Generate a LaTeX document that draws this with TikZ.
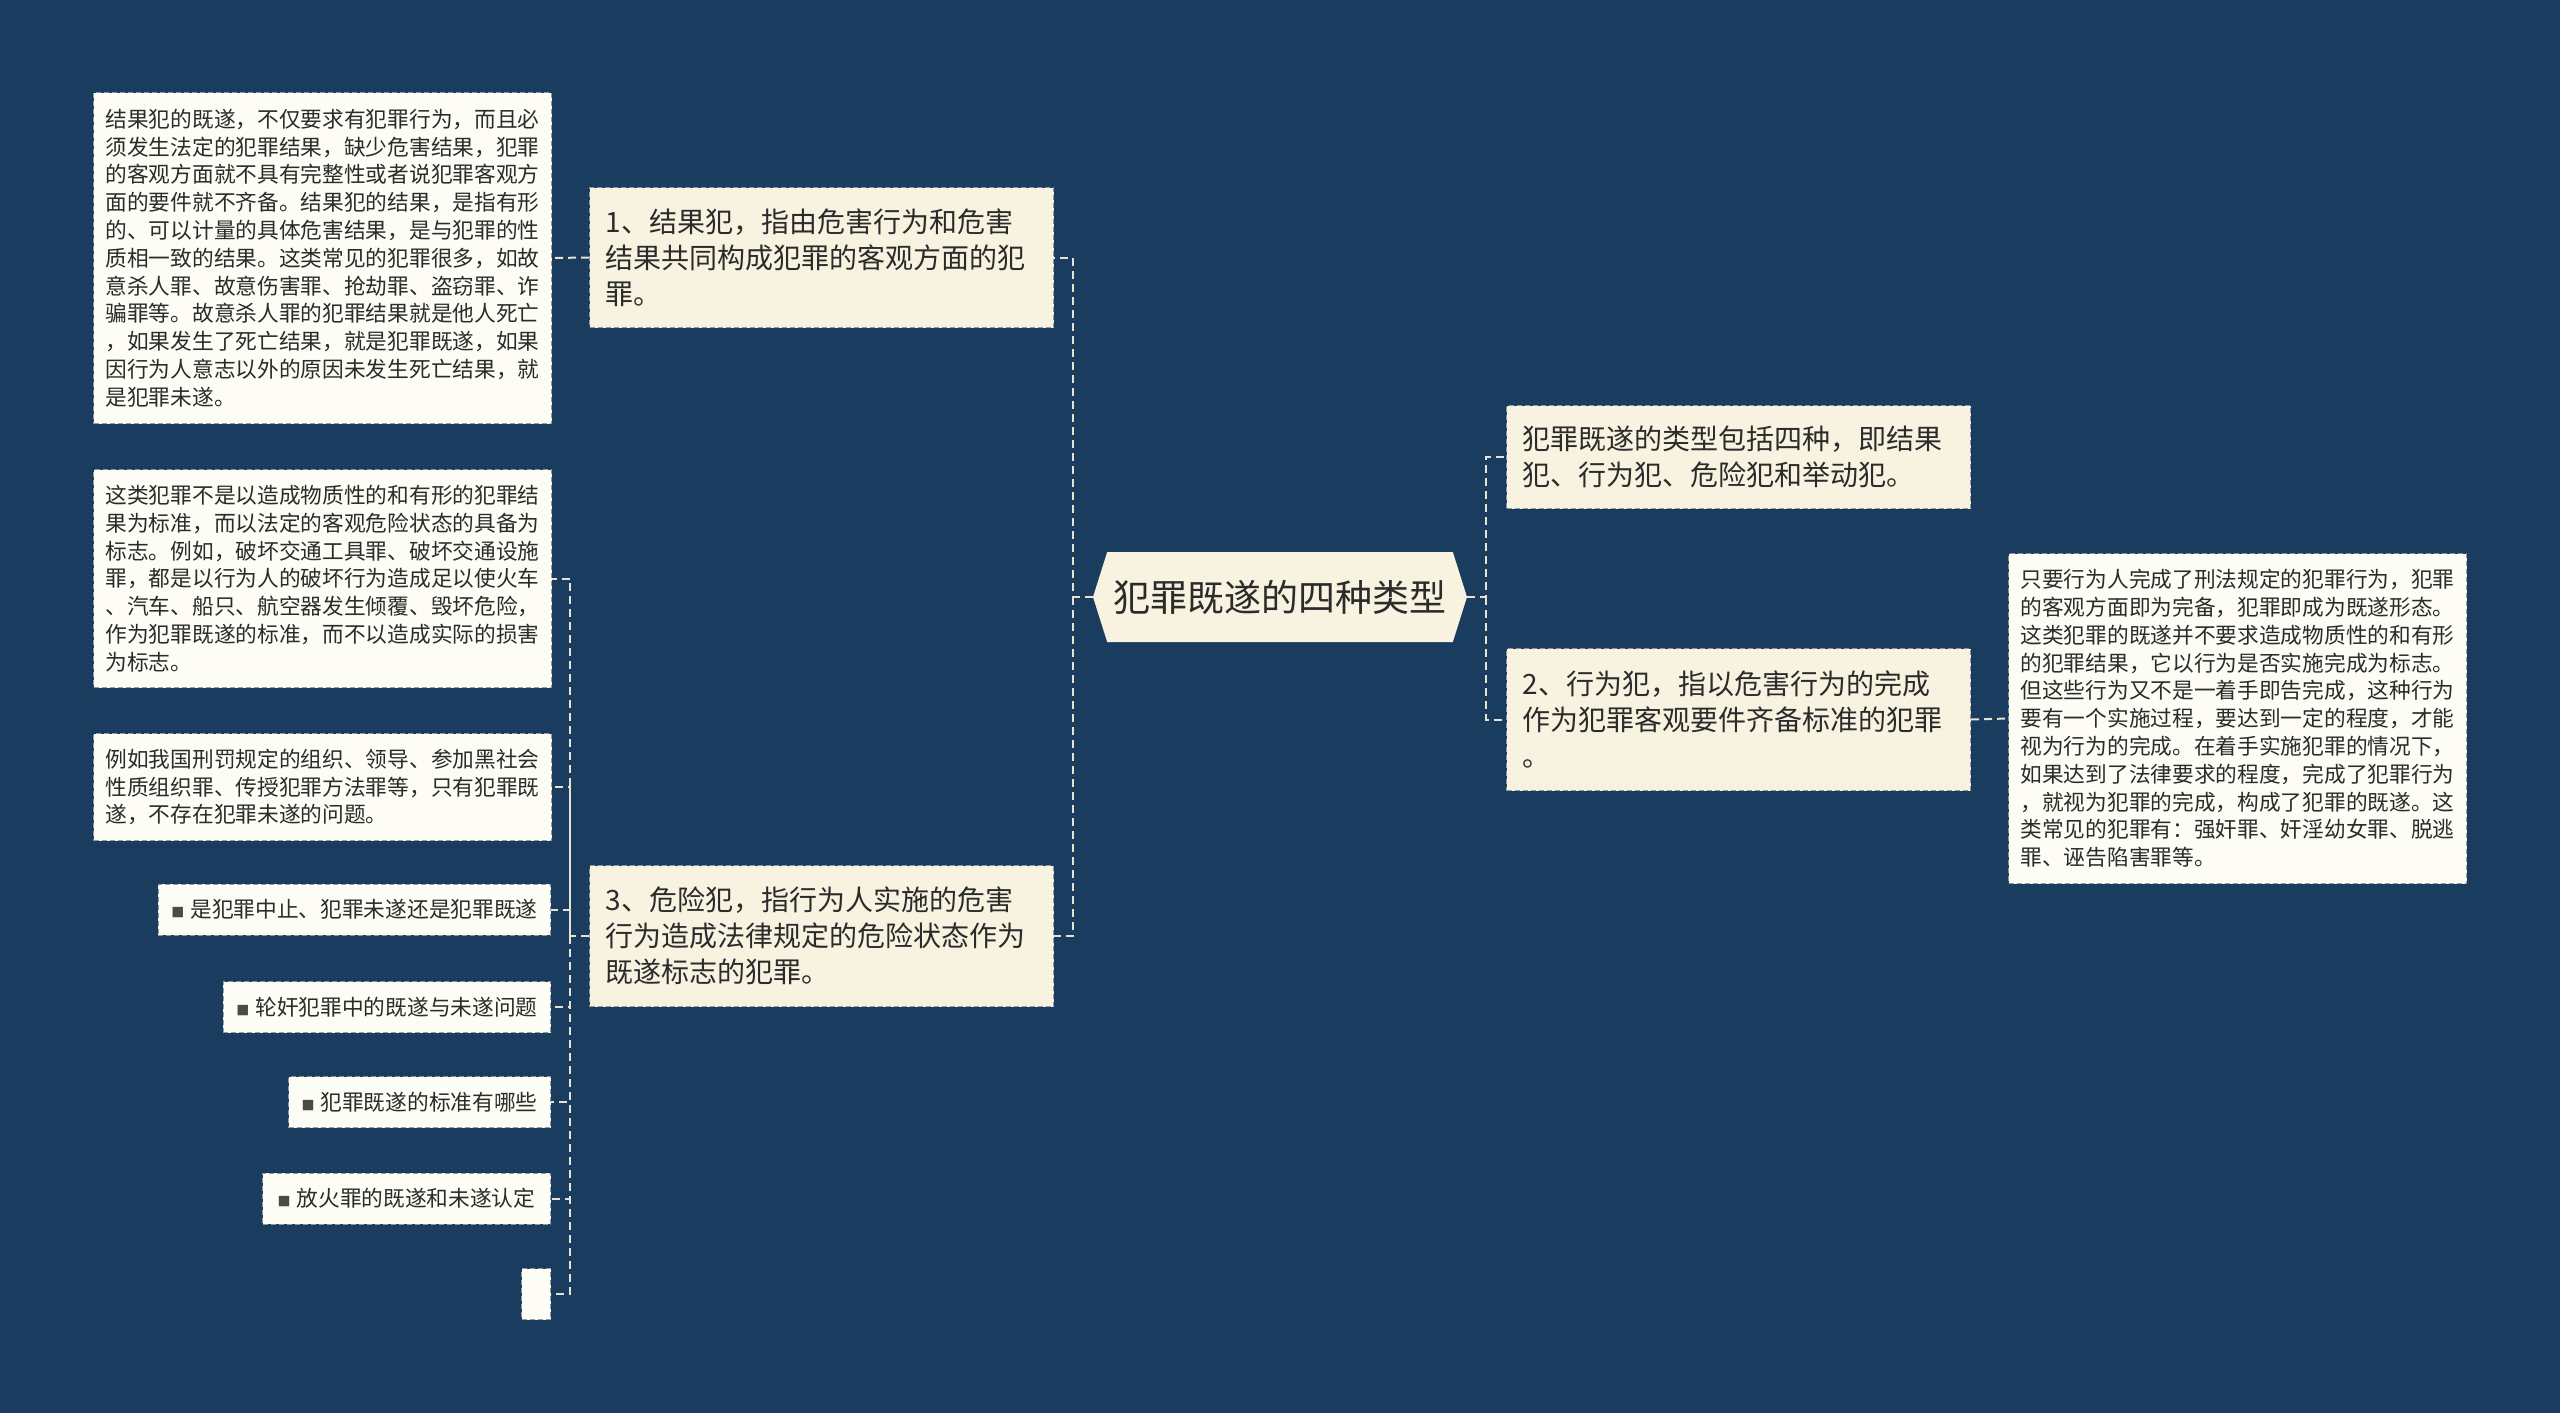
\documentclass[tikz,border=0pt]{standalone}
\usepackage{fontspec}
\setmainfont{Noto Sans CJK SC}
\usepackage{tikz}
\usetikzlibrary{positioning, shapes.symbols}
\usepackage{xcolor}
\definecolor{mapnavy}{HTML}{1A3C5E}
\definecolor{mapcream}{HTML}{F8F3E0}
\definecolor{mapwhite}{HTML}{FDFCF5}
\definecolor{mapink}{HTML}{2B2B2B}
\definecolor{mapline}{HTML}{E6E2D6}
\definecolor{mapedge}{HTML}{8E99A4}
\newcommand{\blt}{{\color{mapink!85}\fontsize{13}{13}\selectfont ■}\hspace{6pt}}

\tikzset{
  boxdash/.style={draw=mapedge, line width=1pt, dash pattern=on 5pt off 3pt},
  root/.style={signal, signal to=west and east, signal pointer angle=145,
               fill=mapcream, text=mapink, minimum width=374pt, minimum height=90pt,
               font=\fontsize{37}{44}\selectfont},
  topic/.style={boxdash, fill=mapcream, text=mapink, anchor=north west,
                inner xsep=16pt, text width=432pt, align=left,
                font=\fontsize{28}{36}\selectfont},
  note/.style={boxdash, fill=mapwhite, text=mapink, anchor=north west,
               inner xsep=12pt, text width=434pt, align=left,
               font=\fontsize{21.7}{27.8}\selectfont},
  tag/.style={boxdash, fill=mapwhite, text=mapink, anchor=east,
              inner xsep=13pt, minimum height=51pt,
              font=\fontsize{21.7}{26}\selectfont},
  link/.style={draw=mapline, line width=2pt, dash pattern=on 8pt off 5pt}
}

\begin{document}
\begin{tikzpicture}[x=1pt, y=-1pt]
  \useasboundingbox (0,0) rectangle (2560,1413);
  \fill[mapnavy] (0,0) rectangle (2560,1413);

  \node[root] (root) at (1280,597) {犯罪既遂的四种类型};

  \node[topic, minimum height=140pt] (jieguo) at (589,187)
    {1、结果犯，指由危害行为和危害\\结果共同构成犯罪的客观方面的犯\\罪。};
  \node[topic, minimum height=141pt] (weixian) at (589,865)
    {3、危险犯，指行为人实施的危害\\行为造成法律规定的危险状态作为\\既遂标志的犯罪。};
  \node[topic, minimum height=103pt] (leixing) at (1506,405)
    {犯罪既遂的类型包括四种，即结果\\犯、行为犯、危险犯和举动犯。};
  \node[topic, minimum height=142pt] (xingwei) at (1506,648)
    {2、行为犯，指以危害行为的完成\\作为犯罪客观要件齐备标准的犯罪\\。};

  \node[note, minimum height=330pt] (xingweinote) at (2008,553)
    {只要行为人完成了刑法规定的犯罪行为，犯罪\\的客观方面即为完备，犯罪即成为既遂形态。\\这类犯罪的既遂并不要求造成物质性的和有形\\的犯罪结果，它以行为是否实施完成为标志。\\但这些行为又不是一着手即告完成，这种行为\\要有一个实施过程，要达到一定的程度，才能\\视为行为的完成。在着手实施犯罪的情况下，\\如果达到了法律要求的程度，完成了犯罪行为\\，就视为犯罪的完成，构成了犯罪的既遂。这\\类常见的犯罪有：强奸罪、奸淫幼女罪、脱逃\\罪、诬告陷害罪等。};
  \node[note, minimum height=331pt] (jieguonote) at (93,92)
    {结果犯的既遂，不仅要求有犯罪行为，而且必\\须发生法定的犯罪结果，缺少危害结果，犯罪\\的客观方面就不具有完整性或者说犯罪客观方\\面的要件就不齐备。结果犯的结果，是指有形\\的、可以计量的具体危害结果，是与犯罪的性\\质相一致的结果。这类常见的犯罪很多，如故\\意杀人罪、故意伤害罪、抢劫罪、盗窃罪、诈\\骗罪等。故意杀人罪的犯罪结果就是他人死亡\\，如果发生了死亡结果，就是犯罪既遂，如果\\因行为人意志以外的原因未发生死亡结果，就\\是犯罪未遂。};
  \node[note, minimum height=218pt] (weixiannote) at (93,469)
    {这类犯罪不是以造成物质性的和有形的犯罪结\\果为标准，而以法定的客观危险状态的具备为\\标志。例如，破坏交通工具罪、破坏交通设施\\罪，都是以行为人的破坏行为造成足以使火车\\、汽车、船只、航空器发生倾覆、毁坏危险，\\作为犯罪既遂的标准，而不以造成实际的损害\\为标志。};
  \node[note, minimum height=107pt] (heishehui) at (93,733)
    {例如我国刑罚规定的组织、领导、参加黑社会\\性质组织罪、传授犯罪方法罪等，只有犯罪既\\遂，不存在犯罪未遂的问题。};

  \node[tag] (tagA) at (551,909.5) {\blt 是犯罪中止、犯罪未遂还是犯罪既遂};
  \node[tag] (tagB) at (551,1007) {\blt 轮奸犯罪中的既遂与未遂问题};
  \node[tag] (tagC) at (551,1102) {\blt 犯罪既遂的标准有哪些};
  \node[tag, minimum width=288pt] (tagD) at (551,1198.5) {\blt 放火罪的既遂和未遂认定};
  \node[tag, minimum width=29pt, inner xsep=0pt] (tagE) at (551,1294) {};

  \draw[link] (root.west) -- ++(-20,0) coordinate (lhub) |- (jieguo.east);
  \draw[link] (lhub) |- (weixian.east);
  \draw[link] (root.east) -- ++(19,0) coordinate (rhub) |- (leixing.west);
  \draw[link] (rhub) |- (xingwei.west);
  \draw[link] (xingwei.east) -- (xingweinote.west);
  \draw[link] (jieguo.west) -- (jieguonote.east);
  \draw[link] (weixian.west) -- ++(-19,0) coordinate (dhub) |- (weixiannote.east);
  \foreach \leaf in {heishehui, tagA, tagB, tagC, tagD, tagE}
    \draw[link] (dhub) |- (\leaf.east);
\end{tikzpicture}
\end{document}
